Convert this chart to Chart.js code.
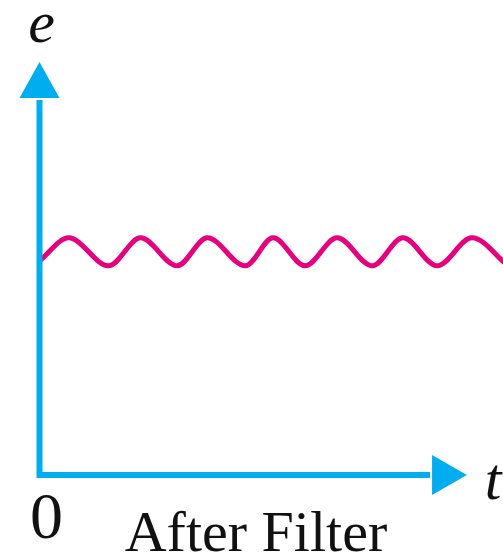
<!DOCTYPE html>
<html>
<head>
<meta charset="utf-8">
<style>
  html, body { margin: 0; padding: 0; background: #fff; }
  #wrap { width: 503px; height: 556px; }
</style>
<script src="https://cdn.jsdelivr.net/npm/chart.js@4/dist/chart.umd.min.js"></script>
</head>
<body>
<div id="wrap"><canvas id="ripple"></canvas></div>
<script>
// Ripple left on the output after filtering: time (0..100) vs voltage (0..100)
const rippleT = [0, 6.3, 14.9, 21.8, 29.7, 36.2, 44.4, 50.4, 57.3, 64.2, 71.8, 78.4, 85.8, 93.3, 101.1];
const rippleE = [53.5, 59.3, 52.3, 59.3, 52.3, 59.3, 52.3, 59.3, 52.3, 59.3, 52.3, 59.3, 52.3, 59.3, 52.3];
const axisLabels = { y: 'e', x: 't', origin: '0' };
const caption = 'After Filter';

const CYAN = '#00aeef';
const MAGENTA = '#e6007e';

// draws the two arrowed axes plus the axis letters and caption
const axesPlugin = {
  id: 'arrowAxes',
  afterDatasetsDraw(chart) {
    const { ctx, scales: { x, y } } = chart;
    const x0 = x.getPixelForValue(0);
    const y0 = y.getPixelForValue(0);
    const yEnd = y.getPixelForValue(94.25);
    const yTip = y.getPixelForValue(103.25);
    const xEnd = x.getPixelForValue(84.7);
    const xTip = x.getPixelForValue(92.2);

    ctx.save();
    ctx.strokeStyle = CYAN;
    ctx.fillStyle = CYAN;
    ctx.lineWidth = 6;
    ctx.lineCap = 'butt';
    ctx.lineJoin = 'miter';
    ctx.beginPath();
    ctx.moveTo(x0, yEnd + 2);
    ctx.lineTo(x0, y0);
    ctx.lineTo(xEnd - 2, y0);
    ctx.stroke();

    ctx.beginPath();
    ctx.moveTo(x0, yTip);
    ctx.lineTo(x0 - 20, yEnd);
    ctx.lineTo(x0 + 20, yEnd);
    ctx.closePath();
    ctx.fill();

    ctx.beginPath();
    ctx.moveTo(xTip, y0);
    ctx.lineTo(xEnd, y0 - 20);
    ctx.lineTo(xEnd, y0 + 20);
    ctx.closePath();
    ctx.fill();

    ctx.fillStyle = '#111';
    ctx.textBaseline = 'alphabetic';
    ctx.font = 'italic 60px "Liberation Serif", "DejaVu Serif", serif';
    ctx.textAlign = 'center';
    ctx.fillText(axisLabels.y, x0 + 2, 42);
    ctx.textAlign = 'left';
    ctx.fillText(axisLabels.x, xTip + 18, 499);

    ctx.font = '66px "Liberation Serif", "DejaVu Serif", serif';
    ctx.textAlign = 'center';
    ctx.fillText(axisLabels.origin, x0 + 7, 538);

    ctx.font = '58px "Liberation Serif", "DejaVu Serif", serif';
    ctx.fillText(caption, 256, 551);
    ctx.restore();
  }
};

new Chart(document.getElementById('ripple'), {
  type: 'line',
  data: {
    datasets: [{
      data: rippleT.map((t, i) => ({ x: t, y: rippleE[i] })),
      borderColor: MAGENTA,
      borderWidth: 5,
      pointRadius: 0,
      cubicInterpolationMode: 'monotone',
      fill: false
    }]
  },
  options: {
    responsive: true,
    maintainAspectRatio: false,
    animation: false,
    layout: { padding: { left: 39.5, right: 0, top: 75, bottom: 81 } },
    plugins: { legend: { display: false }, tooltip: { enabled: false } },
    scales: {
      x: { type: 'linear', min: 0, max: 100, display: false },
      y: { type: 'linear', min: 0, max: 100, display: false }
    }
  },
  plugins: [axesPlugin]
});
</script>
</body>
</html>
